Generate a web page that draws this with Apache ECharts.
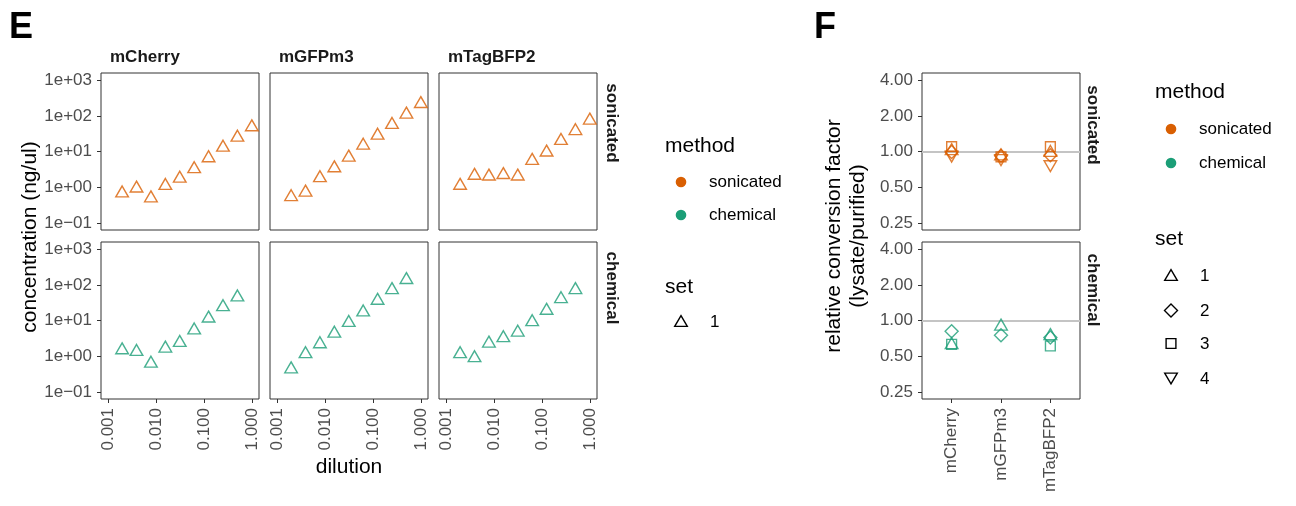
<!DOCTYPE html>
<html><head><meta charset="utf-8">
<script src="https://cdn.jsdelivr.net/npm/echarts@6/dist/echarts.min.js"></script>
<style>html,body{margin:0;padding:0;background:#fff}#c{width:1296px;height:506px}</style>
</head><body><div id="c"></div>
<script>
// ---------- data ----------
const dilution = [0.001953125, 0.00390625, 0.0078125, 0.015625, 0.03125, 0.0625, 0.125, 0.25, 0.5, 1];
const proteins = ['mCherry', 'mGFPm3', 'mTagBFP2'];
const methods = ['sonicated', 'chemical'];
const setLabels = ['1', '2', '3', '4'];

const sonicated_mCherry  = [0.67, 0.92, 0.49, 1.09, 1.74, 3.2, 6.5, 12.9, 24.5, 48];
const sonicated_mGFPm3   = [0.53, 0.71, 1.8, 3.4, 6.8, 14.7, 28, 56, 109, 215];
const sonicated_mTagBFP2 = [1.1, 2.1, 2.0, 2.2, 2.0, 5.5, 9.4, 19.8, 37.5, 74];
const chemical_mCherry   = [1.47, 1.32, 0.62, 1.64, 2.37, 5.3, 11.4, 23.8, 44.5];
const chemical_mGFPm3    = [0.43, 1.14, 2.17, 4.3, 8.6, 16.9, 35.9, 71.6, 137];
const chemical_mTagBFP2  = [1.14, 0.88, 2.27, 3.2, 4.6, 9.0, 18.8, 40, 71.6];

// relative conversion factor (per protein: mCherry, mGFPm3, mTagBFP2)
const sonicated_set1 = [1.01, 0.91, 0.975];
const sonicated_set2 = [0.99, 0.92, 0.93];
const sonicated_set3 = [1.10, 0.90, 1.10];
const sonicated_set4 = [0.94, 0.88, 0.78];
const chemical_set1  = [0.62, 0.89, 0.74];
const chemical_set2  = [0.81, 0.75, 0.72];
const chemical_set3  = [0.63, null, 0.61];

const xTicks = [0.001, 0.01, 0.1, 1];
const yTicks = [0.1, 1, 10, 100, 1000];
const fTicks = [0.25, 0.5, 1, 2, 4];
const fCatTicks = [1, 2, 3];

// ---------- build ----------
const concentration = {
  sonicated: { mCherry: sonicated_mCherry, mGFPm3: sonicated_mGFPm3, mTagBFP2: sonicated_mTagBFP2 },
  chemical:  { mCherry: chemical_mCherry,  mGFPm3: chemical_mGFPm3,  mTagBFP2: chemical_mTagBFP2 }
};
const factor = {
  sonicated: [sonicated_set1, sonicated_set2, sonicated_set3, sonicated_set4],
  chemical:  [chemical_set1, chemical_set2, chemical_set3]
};

const FONT = '"Liberation Sans", Arial, Helvetica, sans-serif';
const COLORS = ['#D95F02', '#1B9E77'];
const TICK = '#333333', LABEL = '#4d4d4d';
const colLeft = [101, 270, 439], rowTop = [73, 242], PW = 158, PH = 157;
const FLEFT = 922;

const setSymbols = [
  { symbol: 'triangle', size: [12.6, 10.9], offset: [0, -1.9] },
  { symbol: 'diamond', size: [13, 13], offset: [0, 0] },
  { symbol: 'rect', size: [9.8, 9.8], offset: [0, 0] },
  { symbol: 'path://M0,0L12,0L6,10.4Z', size: [12.6, 10.9], offset: [0, 1.9] }
];

const grids = [], xAxes = [], yAxes = [], series = [];
function gridOf(left, top) {
  return { left, top, width: PW, height: PH, show: true, borderColor: '#333', borderWidth: 1, backgroundColor: '#fff' };
}
function sciLabel(v) {
  const e = Math.round(Math.log10(v));
  return '1e' + (e < 0 ? '\u2212' : '+') + String(Math.abs(e)).padStart(2, '0');
}

methods.forEach((m, r) => {
  proteins.forEach((p, c) => {
    const gi = grids.length;
    grids.push(gridOf(colLeft[c], rowTop[r]));
    xAxes.push({
      gridIndex: gi, type: 'log', logBase: 10,
      min: Math.pow(10, -3.15), max: Math.pow(10, 0.15),
      axisLine: { show: false }, splitLine: { show: false },
      axisTick: { show: r === 1, customValues: xTicks, length: 4, lineStyle: { color: TICK, width: 1 } },
      axisLabel: { show: r === 1, customValues: xTicks, rotate: 90, margin: 9, fontSize: 17, color: LABEL,
                   fontFamily: FONT, formatter: v => Number(v).toFixed(3) }
    });
    yAxes.push({
      gridIndex: gi, type: 'log', logBase: 10,
      min: Math.pow(10, -1.2), max: Math.pow(10, 3.2),
      axisLine: { show: false }, splitLine: { show: false },
      axisTick: { show: c === 0, customValues: yTicks, length: 4, lineStyle: { color: TICK, width: 1 } },
      axisLabel: { show: c === 0, customValues: yTicks, margin: 9, fontSize: 17, color: LABEL,
                   fontFamily: FONT, formatter: v => sciLabel(v) }
    });
    const vals = concentration[m][p];
    series.push({
      type: 'scatter', xAxisIndex: gi, yAxisIndex: gi,
      data: vals.map((v, k) => [dilution[k], v]),
      symbol: 'triangle', symbolSize: [12.6, 10.9], symbolOffset: [0, -1.9],
      itemStyle: { color: 'rgba(0,0,0,0)', borderColor: COLORS[r], borderWidth: 1.4 },
      silent: true
    });
  });
});

methods.forEach((m, r) => {
  const gi = grids.length;
  grids.push(gridOf(FLEFT, rowTop[r]));
  xAxes.push({
    gridIndex: gi, type: 'value', min: 0.4, max: 3.6,
    axisLine: { show: false }, splitLine: { show: false },
    axisTick: { show: r === 1, customValues: fCatTicks, length: 4, lineStyle: { color: TICK, width: 1 } },
    axisLabel: { show: r === 1, customValues: fCatTicks, rotate: 90, margin: 9, fontSize: 17, color: LABEL,
                 fontFamily: FONT, formatter: v => proteins[Math.round(v) - 1] }
  });
  yAxes.push({
    gridIndex: gi, type: 'log', logBase: 2,
    min: Math.pow(2, -2.2), max: Math.pow(2, 2.2),
    axisLine: { show: false }, splitLine: { show: false },
    axisTick: { show: true, customValues: fTicks, length: 4, lineStyle: { color: TICK, width: 1 } },
    axisLabel: { show: true, customValues: fTicks, margin: 9, fontSize: 17, color: LABEL,
                 fontFamily: FONT, formatter: v => Number(v).toFixed(2) }
  });
  factor[m].forEach((vals, s) => {
    const sym = setSymbols[s];
    const ser = {
      type: 'scatter', xAxisIndex: gi, yAxisIndex: gi,
      data: vals.map((v, k) => [k + 1, v]).filter(d => d[1] != null),
      symbol: sym.symbol, symbolSize: sym.size, symbolOffset: sym.offset,
      itemStyle: { color: 'rgba(0,0,0,0)', borderColor: COLORS[r], borderWidth: 1.4 },
      silent: true, z: 3
    };
    if (s === 0) {
      ser.markLine = {
        silent: true, symbol: 'none', label: { show: false }, animation: false,
        lineStyle: { color: '#c4c4c4', width: 1.8, type: 'solid' },
        data: [{ yAxis: 1 }], z: 1
      };
    }
    series.push(ser);
  });
});

// ---------- text / legends ----------
function txt(text, x, y, o) {
  o = o || {};
  return {
    type: 'text', x, y, rotation: o.rot || 0, z: 10,
    style: {
      text, fill: o.fill || '#000', fontSize: o.size || 17, fontWeight: o.weight || 'normal',
      fontFamily: FONT, align: o.align || 'left', verticalAlign: o.valign || 'middle',
      lineHeight: o.lh
    }
  };
}
const els = [];
els.push(txt('E', 9, 28, { size: 36, weight: 'bold' }));
els.push(txt('F', 814, 28, { size: 36, weight: 'bold' }));
proteins.forEach((p, c) => els.push(txt(p, colLeft[c] + 9, 57.5, { weight: 'bold', fill: '#1a1a1a' })));
const stripY = [123, 288];
methods.forEach((m, r) => {
  els.push(txt(m, 612, stripY[r], { weight: 'bold', fill: '#1a1a1a', rot: -Math.PI / 2, align: 'center' }));
  els.push(txt(m, 1093, stripY[r] + 2, { weight: 'bold', fill: '#1a1a1a', rot: -Math.PI / 2, align: 'center' }));
});
els.push(txt('concentration (ng/ul)', 30, 237, { size: 21, rot: Math.PI / 2, align: 'center' }));
els.push(txt('dilution', 349, 467, { size: 21, align: 'center' }));
els.push(txt('relative conversion factor', 834, 236, { size: 21, rot: Math.PI / 2, align: 'center' }));
els.push(txt('(lysate/purified)', 858, 236, { size: 21, rot: Math.PI / 2, align: 'center' }));

function methodLegend(x, ty, iy) {
  els.push(txt('method', x, ty, { size: 21 }));
  methods.forEach((m, i) => {
    els.push({ type: 'circle', shape: { cx: x + 16, cy: iy[i], r: 5.3 }, style: { fill: COLORS[i] }, z: 10 });
    els.push(txt(m, x + 44, iy[i] + 0.5));
  });
}
function shapeIcon(s, cx, cy) {
  const st = { fill: 'none', stroke: '#000', lineWidth: 1.4 };
  if (s === 0) return { type: 'polygon', shape: { points: [[cx, cy - 5.4], [cx + 6.3, cy + 5.4], [cx - 6.3, cy + 5.4]] }, style: st, z: 10 };
  if (s === 1) return { type: 'polygon', shape: { points: [[cx, cy - 6.5], [cx + 6.5, cy], [cx, cy + 6.5], [cx - 6.5, cy]] }, style: st, z: 10 };
  if (s === 2) return { type: 'rect', shape: { x: cx - 4.9, y: cy - 4.9, width: 9.8, height: 9.8 }, style: st, z: 10 };
  return { type: 'polygon', shape: { points: [[cx - 6.3, cy - 5.4], [cx + 6.3, cy - 5.4], [cx, cy + 5.4]] }, style: st, z: 10 };
}
function setLegend(x, ty, iy, n) {
  els.push(txt('set', x, ty, { size: 21 }));
  for (let s = 0; s < n; s++) {
    els.push(shapeIcon(s, x + 16, iy[s]));
    els.push(txt(setLabels[s], x + 45, iy[s] + 1));
  }
}
methodLegend(665, 146, [182, 215]);
setLegend(665, 287, [321], 1);
methodLegend(1155, 92, [129, 163]);
setLegend(1155, 239, [275, 310.5, 343.5, 378.5], 4);

const chart = echarts.init(document.getElementById('c'), null, { renderer: 'canvas' });
chart.setOption({
  animation: false,
  backgroundColor: '#fff',
  textStyle: { fontFamily: FONT },
  grid: grids, xAxis: xAxes, yAxis: yAxes, series,
  graphic: { elements: els }
});
</script></body></html>
